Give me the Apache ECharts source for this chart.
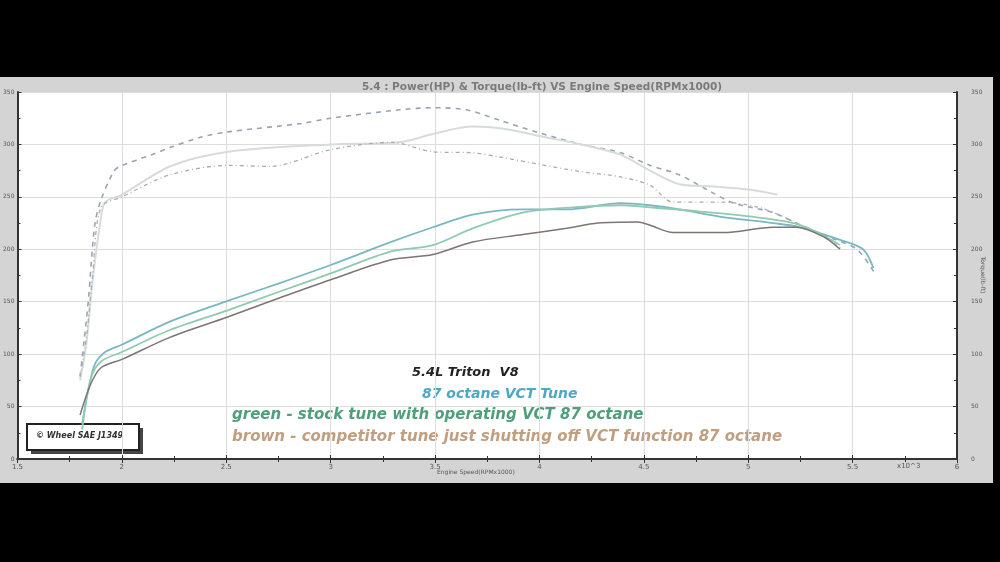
<!DOCTYPE html>
<html><head><meta charset="utf-8">
<script src="https://cdn.jsdelivr.net/npm/echarts@6/dist/echarts.min.js"></script>
<style>html,body{margin:0;padding:0;background:#000;}#c{width:1000px;height:562px;}</style>
</head><body><div id="c"></div>
<script>
// ---- data (RPM x1000, values) ----
const xTicks = ['1.5','2','2.5','3','3.5','4','4.5','5','5.5','6'];
const yTicks = [0,50,100,150,200,250,300,350];

const tqVctRpm = [1.80,1.82,1.84,1.87,1.90,1.96,1.99,2.14,2.23,2.38,2.51,2.86,3.00,3.33,3.49,3.65,3.81,4.00,4.20,4.39,4.53,4.67,4.82,4.93,5.12,5.23,5.38,5.52,5.60];
const tqVctVal = [79,114,152,223,247,274,279,290,297,307,312,320,325,333,335,333,323,311,300,292,280,271,255,244,235,225,212,200,179];

const tqStockRpm = [1.80,1.83,1.86,1.90,1.92,2.00,2.23,2.51,3.00,3.33,3.49,3.68,3.83,4.00,4.20,4.39,4.53,4.67,4.82,5.00,5.14];
const tqStockVal = [75,110,170,230,245,252,279,293,300,302,310,317,315,308,300,290,275,262,260,257,252];

const tqCompRpm = [1.80,1.83,1.86,1.90,2.00,2.23,2.51,2.71,3.00,3.29,3.49,3.68,3.81,4.00,4.20,4.39,4.53,4.64,4.87,5.05,5.20,5.36,5.45];
const tqCompVal = [78,115,175,240,250,271,280,279,295,302,293,292,288,281,274,269,261,245,245,240,228,212,200];

const hpVctRpm = [1.81,1.83,1.84,1.87,1.92,2.00,2.23,2.51,2.76,3.00,3.29,3.49,3.68,3.92,4.13,4.39,4.53,4.67,4.87,5.12,5.25,5.44,5.55,5.60];
const hpVctVal = [33,57,66,90,102,109,131,151,168,185,207,221,233,238,238,244,242,238,231,225,221,209,200,182];

const hpStockRpm = [1.81,1.85,1.90,2.00,2.23,2.51,2.76,3.00,3.29,3.49,3.68,3.92,4.16,4.39,4.53,4.77,5.06,5.25,5.44];
const hpStockVal = [28,76,93,102,123,142,160,177,198,204,220,235,240,242,240,236,230,223,204];

const hpCompRpm = [1.80,1.85,1.90,2.00,2.23,2.50,2.76,3.00,3.29,3.49,3.68,3.92,4.13,4.28,4.47,4.53,4.64,4.88,5.12,5.23,5.36,5.44];
const hpCompVal = [42,71,87,95,116,135,154,171,190,195,207,214,220,225,226,223,216,216,221,221,212,200];

const pairs = (r, v) => r.map((x, i) => [x, v[i]]);

const chart = echarts.init(document.getElementById('c'));
const axisLine = {show:true, lineStyle:{color:'#333', width:2}};
const lbl = {color:'#555', fontSize:7, fontFamily:'DejaVu Sans'};
const ann = {fontWeight:'bold', fontStyle:'italic', fontFamily:'DejaVu Sans'};
chart.setOption({
  backgroundColor:'#000',
  animation:false,
  title:{text:'5.4 : Power(HP) & Torque(lb-ft) VS Engine Speed(RPMx1000)', left:357, top:77,
    textStyle:{fontSize:10.5, fontWeight:'bold', color:'#7a7a7a', fontFamily:'DejaVu Sans'}},
  grid:{left:17, right:43, top:92, bottom:103, show:true, backgroundColor:'#fff', borderWidth:0},
  graphic:[
    {type:'rect', z:-10, shape:{x:0,y:77,width:993,height:406}, style:{fill:'#d4d4d4'}},
    {type:'text', left:897, top:463, style:{text:'x10^3', fontSize:7, fill:'#555', fontFamily:'DejaVu Sans'}},
    {type:'text', left:437, top:469, style:{text:'Engine Speed(RPMx1000)', fontSize:6, fill:'#555', fontFamily:'DejaVu Sans'}},
    {type:'text', x:983, y:275, rotation:-Math.PI/2, style:{text:'Torque(lb-ft)', fontSize:6, fill:'#555', fontFamily:'DejaVu Sans', align:'center', verticalAlign:'middle'}},
    {type:'rect', shape:{x:31,y:428,width:112,height:26}, style:{fill:'#444'}},
    {type:'rect', shape:{x:27,y:424,width:112,height:26}, style:{fill:'#fff', stroke:'#222', lineWidth:2}},
    {type:'text', left:36, top:432, style:{text:'© Wheel SAE J1349', fontSize:8, fill:'#333', ...ann}},
    {type:'text', left:412, top:366, style:{text:'5.4L Triton  V8', fontSize:13, fill:'#222', ...ann}},
    {type:'text', left:422, top:387, style:{text:'87 octane VCT Tune', fontSize:14, fill:'#4ea7c4', ...ann}},
    {type:'text', left:232, top:408, style:{text:'green - stock tune with operating VCT 87 octane', fontSize:15, fill:'#4f9f7c', ...ann}},
    {type:'text', left:232, top:430, style:{text:'brown - competitor tune just shutting off VCT function 87 octane', fontSize:15, fill:'#bf9f80', ...ann}}
  ],
  xAxis:[
    {type:'value', min:1.5, max:6, interval:0.5, position:'bottom', axisLine,
     axisTick:{show:true, inside:true, length:4, lineStyle:{color:'#333'}},
     minorTick:{show:true, splitNumber:2, length:3, lineStyle:{color:'#333'}},
     splitLine:{show:true, lineStyle:{color:'#ddd', width:1}},
     axisLabel:{...lbl, margin:5, formatter:(v)=>{const s=xTicks[Math.round((v-1.5)/0.5)]; return s===undefined?'':s;}}},
    {type:'value', min:1.5, max:6, interval:0.5, position:'top', axisLine,
     axisTick:{show:true, inside:true, length:4, lineStyle:{color:'#333'}},
     minorTick:{show:true, splitNumber:2, length:3, lineStyle:{color:'#333'}},
     splitLine:{show:false}, axisLabel:{show:false}}
  ],
  yAxis:[
    {type:'value', min:0, max:350, interval:50, position:'left', axisLine,
     axisTick:{show:true, inside:true, length:4, lineStyle:{color:'#333'}},
     minorTick:{show:true, splitNumber:2, length:3, lineStyle:{color:'#333'}},
     splitLine:{show:true, lineStyle:{color:'#ddd', width:1}},
     axisLabel:{...lbl, fontSize:6, margin:3, formatter:(v)=>yTicks.includes(v)?String(v):''}},
    {type:'value', min:0, max:350, interval:50, position:'right', axisLine,
     axisTick:{show:true, inside:true, length:4, lineStyle:{color:'#333'}},
     minorTick:{show:true, splitNumber:2, length:3, lineStyle:{color:'#333'}},
     splitLine:{show:false},
     axisLabel:{...lbl, fontSize:6, margin:14, formatter:(v)=>yTicks.includes(v)?String(v):''}}
  ],
  series:[
    {type:'line', name:'Torque VCT', data:pairs(tqVctRpm,tqVctVal), smooth:0.3, symbol:'none',
     lineStyle:{color:'#9aa3b5', width:1.6, type:[5,5]}},
    {type:'line', name:'Torque stock', data:pairs(tqStockRpm,tqStockVal), smooth:0.3, symbol:'none',
     lineStyle:{color:'#d6dcd8', width:2, type:'solid'}},
    {type:'line', name:'Torque comp', data:pairs(tqCompRpm,tqCompVal), smooth:0.3, symbol:'none',
     lineStyle:{color:'#adadad', width:1.3, type:[4,3,1,3]}},
    {type:'line', name:'HP VCT', data:pairs(hpVctRpm,hpVctVal), smooth:0.3, symbol:'none',
     lineStyle:{color:'#79b8c0', width:1.8}},
    {type:'line', name:'HP stock', data:pairs(hpStockRpm,hpStockVal), smooth:0.3, symbol:'none',
     lineStyle:{color:'#8fcab2', width:1.8}},
    {type:'line', name:'HP comp', data:pairs(hpCompRpm,hpCompVal), smooth:0.3, symbol:'none',
     lineStyle:{color:'#7e7470', width:1.5}}
  ]
});
</script></body></html>
